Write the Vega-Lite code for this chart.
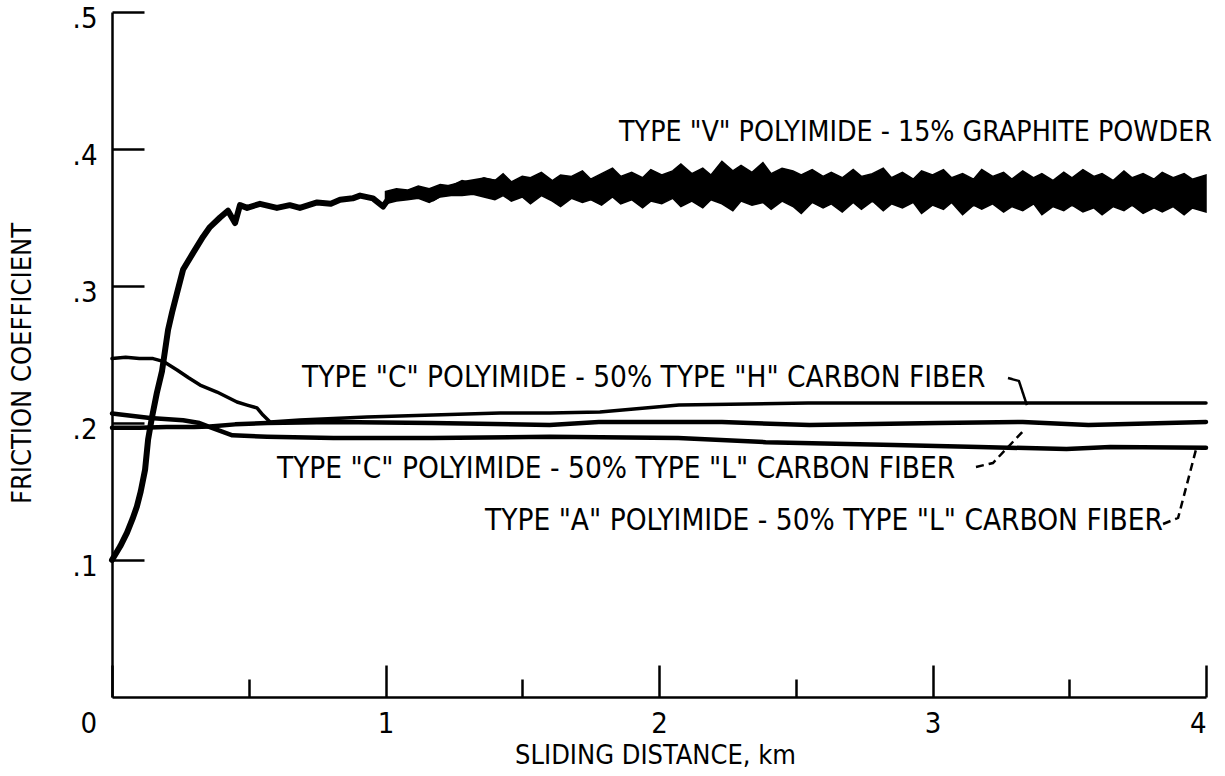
{
  "$schema": "https://vega.github.io/schema/vega-lite/v6.json",
  "width": 1094,
  "height": 685,
  "autosize": {"type": "none"},
  "padding": {"left": 112, "top": 12, "right": 19, "bottom": 79},
  "background": "white",
  "config": {
    "view": {"stroke": null},
    "font": "Liberation Sans Narrow, DejaVu Sans Condensed, sans-serif",
    "axis": {
      "grid": false,
      "domainColor": "black",
      "domainWidth": 2.5,
      "tickColor": "black",
      "tickWidth": 2.5,
      "labelColor": "black",
      "titleColor": "black",
      "labelFont": "Liberation Sans Narrow, DejaVu Sans Condensed, sans-serif",
      "titleFont": "Liberation Sans Narrow, DejaVu Sans Condensed, sans-serif",
      "labelFontSize": 29,
      "titleFontSize": 27,
      "titleFontWeight": "normal"
    }
  },
  "datasets": {
    "curves": [
      {"series": "V", "x": 0.0, "y": 0.100},
      {"series": "V", "x": 0.030, "y": 0.110},
      {"series": "V", "x": 0.055, "y": 0.120},
      {"series": "V", "x": 0.075, "y": 0.130},
      {"series": "V", "x": 0.091, "y": 0.139},
      {"series": "V", "x": 0.105, "y": 0.150},
      {"series": "V", "x": 0.121, "y": 0.166},
      {"series": "V", "x": 0.132, "y": 0.188},
      {"series": "V", "x": 0.146, "y": 0.204},
      {"series": "V", "x": 0.164, "y": 0.222},
      {"series": "V", "x": 0.183, "y": 0.238},
      {"series": "V", "x": 0.205, "y": 0.268},
      {"series": "V", "x": 0.220, "y": 0.281},
      {"series": "V", "x": 0.238, "y": 0.295},
      {"series": "V", "x": 0.260, "y": 0.312},
      {"series": "V", "x": 0.296, "y": 0.324},
      {"series": "V", "x": 0.333, "y": 0.336},
      {"series": "V", "x": 0.358, "y": 0.343},
      {"series": "V", "x": 0.395, "y": 0.350},
      {"series": "V", "x": 0.424, "y": 0.355},
      {"series": "V", "x": 0.450, "y": 0.346},
      {"series": "V", "x": 0.468, "y": 0.359},
      {"series": "V", "x": 0.494, "y": 0.357},
      {"series": "V", "x": 0.541, "y": 0.360},
      {"series": "V", "x": 0.603, "y": 0.357},
      {"series": "V", "x": 0.650, "y": 0.359},
      {"series": "V", "x": 0.687, "y": 0.357},
      {"series": "V", "x": 0.750, "y": 0.361},
      {"series": "V", "x": 0.800, "y": 0.360},
      {"series": "V", "x": 0.834, "y": 0.363},
      {"series": "V", "x": 0.880, "y": 0.364},
      {"series": "V", "x": 0.907, "y": 0.366},
      {"series": "V", "x": 0.954, "y": 0.364},
      {"series": "V", "x": 0.991, "y": 0.358},
      {"series": "V", "x": 1.020, "y": 0.366},
      {"series": "V", "x": 1.053, "y": 0.368},
      {"series": "V", "x": 1.100, "y": 0.367},
      {"series": "V", "x": 1.137, "y": 0.370},
      {"series": "V", "x": 1.174, "y": 0.364},
      {"series": "V", "x": 1.236, "y": 0.372},
      {"series": "V", "x": 1.298, "y": 0.375},
      {"series": "V", "x": 1.357, "y": 0.377},
      {"series": "V", "x": 1.419, "y": 0.375},
      {"series": "CH", "x": 0.0, "y": 0.247},
      {"series": "CH", "x": 0.05, "y": 0.248},
      {"series": "CH", "x": 0.10, "y": 0.247},
      {"series": "CH", "x": 0.15, "y": 0.247},
      {"series": "CH", "x": 0.187, "y": 0.245},
      {"series": "CH", "x": 0.238, "y": 0.2387},
      {"series": "CH", "x": 0.280, "y": 0.233},
      {"series": "CH", "x": 0.322, "y": 0.2277},
      {"series": "CH", "x": 0.384, "y": 0.2226},
      {"series": "CH", "x": 0.457, "y": 0.2153},
      {"series": "CH", "x": 0.494, "y": 0.2131},
      {"series": "CH", "x": 0.530, "y": 0.211},
      {"series": "CH", "x": 0.552, "y": 0.2058},
      {"series": "CH", "x": 0.578, "y": 0.2007},
      {"series": "CH", "x": 0.687, "y": 0.2022},
      {"series": "CH", "x": 0.932, "y": 0.2044},
      {"series": "CH", "x": 1.174, "y": 0.2058},
      {"series": "CH", "x": 1.419, "y": 0.2073},
      {"series": "CH", "x": 1.601, "y": 0.2073},
      {"series": "CH", "x": 1.784, "y": 0.208},
      {"series": "CH", "x": 2.073, "y": 0.2131},
      {"series": "CH", "x": 2.545, "y": 0.2146},
      {"series": "CH", "x": 3.016, "y": 0.2146},
      {"series": "CH", "x": 3.331, "y": 0.2146},
      {"series": "CH", "x": 3.700, "y": 0.2146},
      {"series": "CH", "x": 4.0, "y": 0.2146},
      {"series": "CL", "x": 0.0, "y": 0.1965},
      {"series": "CL", "x": 0.10, "y": 0.1965},
      {"series": "CL", "x": 0.20, "y": 0.197},
      {"series": "CL", "x": 0.30, "y": 0.197},
      {"series": "CL", "x": 0.358, "y": 0.1975},
      {"series": "CL", "x": 0.45, "y": 0.199},
      {"series": "CL", "x": 0.567, "y": 0.2},
      {"series": "CL", "x": 0.81, "y": 0.2007},
      {"series": "CL", "x": 1.17, "y": 0.2},
      {"series": "CL", "x": 1.6, "y": 0.1985},
      {"series": "CL", "x": 1.78, "y": 0.2007},
      {"series": "CL", "x": 1.92, "y": 0.2007},
      {"series": "CL", "x": 2.23, "y": 0.2007},
      {"series": "CL", "x": 2.55, "y": 0.1985},
      {"series": "CL", "x": 3.02, "y": 0.2},
      {"series": "CL", "x": 3.33, "y": 0.2007},
      {"series": "CL", "x": 3.57, "y": 0.1985},
      {"series": "CL", "x": 4.0, "y": 0.2007},
      {"series": "AL", "x": 0.0, "y": 0.207},
      {"series": "AL", "x": 0.139, "y": 0.2036},
      {"series": "AL", "x": 0.26, "y": 0.202},
      {"series": "AL", "x": 0.32, "y": 0.2},
      {"series": "AL", "x": 0.358, "y": 0.197},
      {"series": "AL", "x": 0.44, "y": 0.191},
      {"series": "AL", "x": 0.567, "y": 0.19},
      {"series": "AL", "x": 0.81, "y": 0.189},
      {"series": "AL", "x": 1.17, "y": 0.189},
      {"series": "AL", "x": 1.6, "y": 0.19},
      {"series": "AL", "x": 2.07, "y": 0.189},
      {"series": "AL", "x": 2.39, "y": 0.186},
      {"series": "AL", "x": 2.86, "y": 0.184},
      {"series": "AL", "x": 3.17, "y": 0.1825},
      {"series": "AL", "x": 3.49, "y": 0.181},
      {"series": "AL", "x": 3.65, "y": 0.1825},
      {"series": "AL", "x": 4.0, "y": 0.182}
    ],
    "band": [
      {"x": 1.00, "y": 0.369, "ylow": 0.360},
      {"x": 1.04, "y": 0.371, "ylow": 0.362},
      {"x": 1.08, "y": 0.370, "ylow": 0.363},
      {"x": 1.12, "y": 0.373, "ylow": 0.364},
      {"x": 1.16, "y": 0.371, "ylow": 0.361},
      {"x": 1.20, "y": 0.374, "ylow": 0.365},
      {"x": 1.24, "y": 0.373, "ylow": 0.366},
      {"x": 1.28, "y": 0.377, "ylow": 0.366},
      {"x": 1.32, "y": 0.375, "ylow": 0.367},
      {"x": 1.36, "y": 0.379, "ylow": 0.365},
      {"x": 1.40, "y": 0.377, "ylow": 0.363},
      {"x": 1.43, "y": 0.382, "ylow": 0.366},
      {"x": 1.46, "y": 0.376, "ylow": 0.362},
      {"x": 1.50, "y": 0.380, "ylow": 0.365},
      {"x": 1.53, "y": 0.379, "ylow": 0.360},
      {"x": 1.57, "y": 0.383, "ylow": 0.366},
      {"x": 1.61, "y": 0.377, "ylow": 0.362},
      {"x": 1.64, "y": 0.381, "ylow": 0.358},
      {"x": 1.68, "y": 0.380, "ylow": 0.364},
      {"x": 1.72, "y": 0.384, "ylow": 0.361},
      {"x": 1.75, "y": 0.378, "ylow": 0.363},
      {"x": 1.79, "y": 0.382, "ylow": 0.359},
      {"x": 1.83, "y": 0.386, "ylow": 0.365},
      {"x": 1.86, "y": 0.380, "ylow": 0.360},
      {"x": 1.90, "y": 0.383, "ylow": 0.363},
      {"x": 1.94, "y": 0.379, "ylow": 0.357},
      {"x": 1.97, "y": 0.385, "ylow": 0.362},
      {"x": 2.01, "y": 0.381, "ylow": 0.360},
      {"x": 2.05, "y": 0.384, "ylow": 0.364},
      {"x": 2.08, "y": 0.389, "ylow": 0.358},
      {"x": 2.12, "y": 0.382, "ylow": 0.362},
      {"x": 2.16, "y": 0.386, "ylow": 0.357},
      {"x": 2.19, "y": 0.381, "ylow": 0.363},
      {"x": 2.23, "y": 0.391, "ylow": 0.360},
      {"x": 2.27, "y": 0.384, "ylow": 0.355},
      {"x": 2.30, "y": 0.388, "ylow": 0.362},
      {"x": 2.34, "y": 0.383, "ylow": 0.359},
      {"x": 2.38, "y": 0.390, "ylow": 0.361},
      {"x": 2.41, "y": 0.382, "ylow": 0.356},
      {"x": 2.45, "y": 0.386, "ylow": 0.362},
      {"x": 2.49, "y": 0.384, "ylow": 0.358},
      {"x": 2.52, "y": 0.381, "ylow": 0.353},
      {"x": 2.56, "y": 0.385, "ylow": 0.361},
      {"x": 2.60, "y": 0.380, "ylow": 0.357},
      {"x": 2.63, "y": 0.383, "ylow": 0.360},
      {"x": 2.67, "y": 0.379, "ylow": 0.354},
      {"x": 2.71, "y": 0.385, "ylow": 0.361},
      {"x": 2.74, "y": 0.380, "ylow": 0.356},
      {"x": 2.78, "y": 0.382, "ylow": 0.362},
      {"x": 2.82, "y": 0.386, "ylow": 0.355},
      {"x": 2.85, "y": 0.379, "ylow": 0.360},
      {"x": 2.89, "y": 0.383, "ylow": 0.357},
      {"x": 2.93, "y": 0.378, "ylow": 0.361},
      {"x": 2.96, "y": 0.384, "ylow": 0.353},
      {"x": 3.00, "y": 0.381, "ylow": 0.359},
      {"x": 3.04, "y": 0.385, "ylow": 0.356},
      {"x": 3.07, "y": 0.379, "ylow": 0.361},
      {"x": 3.11, "y": 0.382, "ylow": 0.352},
      {"x": 3.15, "y": 0.378, "ylow": 0.359},
      {"x": 3.18, "y": 0.385, "ylow": 0.356},
      {"x": 3.22, "y": 0.380, "ylow": 0.360},
      {"x": 3.26, "y": 0.383, "ylow": 0.354},
      {"x": 3.29, "y": 0.378, "ylow": 0.358},
      {"x": 3.33, "y": 0.384, "ylow": 0.355},
      {"x": 3.37, "y": 0.379, "ylow": 0.360},
      {"x": 3.40, "y": 0.382, "ylow": 0.352},
      {"x": 3.44, "y": 0.377, "ylow": 0.358},
      {"x": 3.48, "y": 0.383, "ylow": 0.355},
      {"x": 3.51, "y": 0.379, "ylow": 0.359},
      {"x": 3.55, "y": 0.385, "ylow": 0.354},
      {"x": 3.59, "y": 0.380, "ylow": 0.357},
      {"x": 3.62, "y": 0.382, "ylow": 0.352},
      {"x": 3.66, "y": 0.377, "ylow": 0.358},
      {"x": 3.70, "y": 0.384, "ylow": 0.355},
      {"x": 3.73, "y": 0.379, "ylow": 0.359},
      {"x": 3.77, "y": 0.382, "ylow": 0.353},
      {"x": 3.81, "y": 0.378, "ylow": 0.357},
      {"x": 3.84, "y": 0.383, "ylow": 0.354},
      {"x": 3.88, "y": 0.379, "ylow": 0.358},
      {"x": 3.92, "y": 0.382, "ylow": 0.352},
      {"x": 3.95, "y": 0.378, "ylow": 0.357},
      {"x": 4.00, "y": 0.381, "ylow": 0.354}
    ],
    "leaders": [
      {"grp": "CH", "dash": "solid", "x": 3.276, "y": 0.2328},
      {"grp": "CH", "dash": "solid", "x": 3.316, "y": 0.2307},
      {"grp": "CH", "dash": "solid", "x": 3.345, "y": 0.2131},
      {"grp": "CL", "dash": "dashed", "x": 3.159, "y": 0.1679},
      {"grp": "CL", "dash": "dashed", "x": 3.221, "y": 0.1708},
      {"grp": "CL", "dash": "dashed", "x": 3.335, "y": 0.1949},
      {"grp": "AL", "dash": "dashed", "x": 3.843, "y": 0.1263},
      {"grp": "AL", "dash": "dashed", "x": 3.898, "y": 0.1307},
      {"grp": "AL", "dash": "dashed", "x": 3.963, "y": 0.1803}
    ],
    "toplabel": [
      {"x": 1.854, "y": 0.412, "label": "TYPE \"V\" POLYIMIDE - 15% GRAPHITE POWDER"}
    ],
    "labels": [
      {"x": 0.695, "y": 0.2328, "label": "TYPE \"C\" POLYIMIDE - 50% TYPE \"H\" CARBON FIBER"},
      {"x": 0.603, "y": 0.1664, "label": "TYPE \"C\" POLYIMIDE - 50% TYPE \"L\" CARBON FIBER"},
      {"x": 1.364, "y": 0.1285, "label": "TYPE \"A\" POLYIMIDE - 50% TYPE \"L\" CARBON FIBER"}
    ]
  },
  "encoding": {
    "x": {
      "field": "x",
      "type": "quantitative",
      "scale": {"domain": [0, 4], "nice": false, "zero": false},
      "axis": {
        "title": "SLIDING DISTANCE, km",
        "values": [0, 0.5, 1, 1.5, 2, 2.5, 3, 3.5, 4],
        "labelExpr": "datum.value % 1 == 0 ? format(datum.value, 'd') : ''",
        "tickSize": {"condition": {"test": "datum.value % 1 != 0", "value": -18}, "value": -32},
        "labelOffset": {"condition": {"test": "datum.value == 0", "value": -32}, "value": 0},
        "labelPadding": 44,
        "labelBaseline": "top",
        "titleX": 543,
        "titleY": 58,
        "titleBaseline": "middle",
        "titleAlign": "center"
      }
    },
    "y": {
      "field": "y",
      "type": "quantitative",
      "scale": {"domain": [0, 0.5], "nice": false, "zero": false},
      "axis": {
        "title": "FRICTION COEFFICIENT",
        "values": [0.1, 0.2, 0.3, 0.4, 0.5],
        "labelExpr": "replace(format(datum.value, '.1f'), '0.', '.')",
        "tickSize": -32,
        "labelPadding": 47,
        "labelOffset": 6,
        "titleX": -90,
        "titleY": 351,
        "titleBaseline": "middle",
        "titleAlign": "center",
        "titleAngle": -90
      }
    }
  },
  "layer": [
    {
      "data": {"name": "band"},
      "mark": {"type": "area", "color": "black", "opacity": 1, "stroke": "black", "strokeWidth": 1.5},
      "encoding": {"y2": {"field": "ylow"}}
    },
    {
      "data": {"name": "curves"},
      "mark": {"type": "line", "color": "black", "strokeJoin": "round", "strokeCap": "round"},
      "encoding": {
        "detail": {"field": "series", "type": "nominal"},
        "strokeWidth": {
          "field": "series",
          "type": "nominal",
          "scale": {"type": "ordinal", "domain": ["V", "CH", "CL", "AL"], "range": [6, 3.5, 4.5, 4.5]},
          "legend": null
        }
      }
    },
    {
      "data": {"name": "leaders"},
      "mark": {"type": "line", "color": "black", "strokeWidth": 2.5},
      "encoding": {
        "detail": {"field": "grp", "type": "nominal"},
        "strokeDash": {
          "field": "dash",
          "type": "nominal",
          "scale": {"domain": ["solid", "dashed"], "range": [[1, 0], [8, 5]]},
          "legend": null
        }
      }
    },
    {
      "data": {"name": "toplabel"},
      "mark": {"type": "text", "align": "left", "baseline": "middle", "fontSize": 28.3, "color": "black"},
      "encoding": {"text": {"field": "label"}}
    },
    {
      "data": {"name": "labels"},
      "mark": {"type": "text", "align": "left", "baseline": "middle", "fontSize": 29.5, "color": "black"},
      "encoding": {"text": {"field": "label"}}
    }
  ]
}
